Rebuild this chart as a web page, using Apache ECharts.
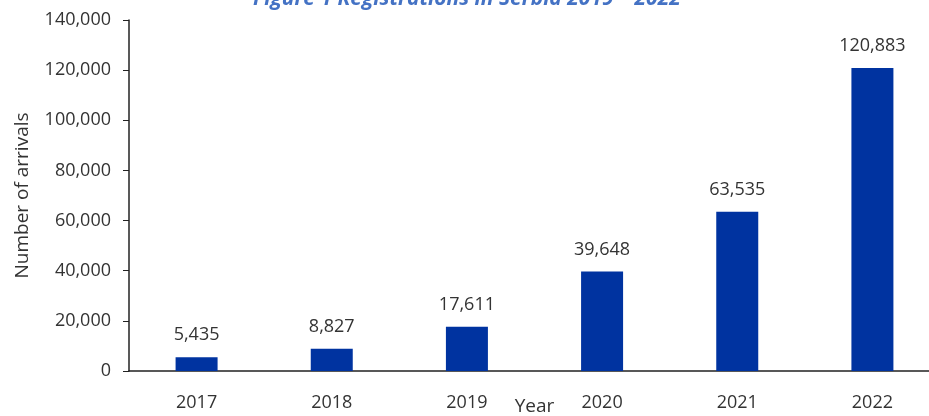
<!DOCTYPE html>
<html>
<head>
<meta charset="utf-8">
<script src="https://cdn.jsdelivr.net/npm/echarts@6/dist/echarts.min.js"></script>
<style>
html, body { margin: 0; padding: 0; background: #fff; }
#chart { width: 929px; height: 416px; }
</style>
</head>
<body>
<div id="chart"></div>
<script>
var years = ['2017', '2018', '2019', '2020', '2021', '2022'];
var arrivals = [5435, 8827, 17611, 39648, 63535, 120883];
var yTicks = [0, 20000, 40000, 60000, 80000, 100000, 120000, 140000];

var fmt = function (v) { return v.toLocaleString('en-US'); };

var myChart = echarts.init(document.getElementById('chart'));
var option = {
    backgroundColor: '#fff',
    textStyle: { fontFamily: 'Open Sans' },
    title: {
        text: 'Figure 1 Registrations in Serbia 2019 \u2013 2022',
        left: 248,
        top: -16,
        textStyle: {
            color: '#4472C4',
            fontSize: 21,
            fontWeight: 'bold',
            fontStyle: 'italic',
            fontFamily: 'Open Sans'
        }
    },
    grid: {
        left: 129,
        right: -11,
        top: 20,
        bottom: 45,
        containLabel: false,
        outerBoundsMode: 'none'
    },
    xAxis: {
        type: 'category',
        data: years,
        name: 'Year',
        nameLocation: 'middle',
        nameGap: 26,
        nameMoveOverlap: false,
        nameTextStyle: { color: '#333', fontSize: 19, verticalAlign: 'top' },
        axisLine: { lineStyle: { color: '#222', width: 1.5 } },
        axisTick: { alignWithLabel: true, length: 6, lineStyle: { color: '#222' } },
        axisLabel: { color: '#333', fontSize: 18, margin: 23 }
    },
    yAxis: {
        type: 'value',
        min: yTicks[0],
        max: yTicks[yTicks.length - 1],
        interval: 20000,
        name: 'Number of arrivals',
        nameLocation: 'middle',
        nameGap: 97,
        nameMoveOverlap: false,
        nameTextStyle: { color: '#333', fontSize: 19 },
        axisLine: { show: true, lineStyle: { color: '#222', width: 1.5 } },
        axisTick: { show: true, length: 6, lineStyle: { color: '#222' } },
        splitLine: { show: false },
        axisLabel: {
            color: '#333',
            fontSize: 18,
            margin: 18,
            formatter: function (v) { return fmt(v); }
        }
    },
    series: [{
        type: 'bar',
        data: arrivals,
        barWidth: 42,
        itemStyle: { color: '#0033A0' },
        label: {
            show: true,
            position: 'top',
            distance: 13,
            color: '#333',
            fontSize: 18,
            formatter: function (p) { return fmt(p.value); }
        }
    }]
};
myChart.setOption(option);
</script>
</body>
</html>
